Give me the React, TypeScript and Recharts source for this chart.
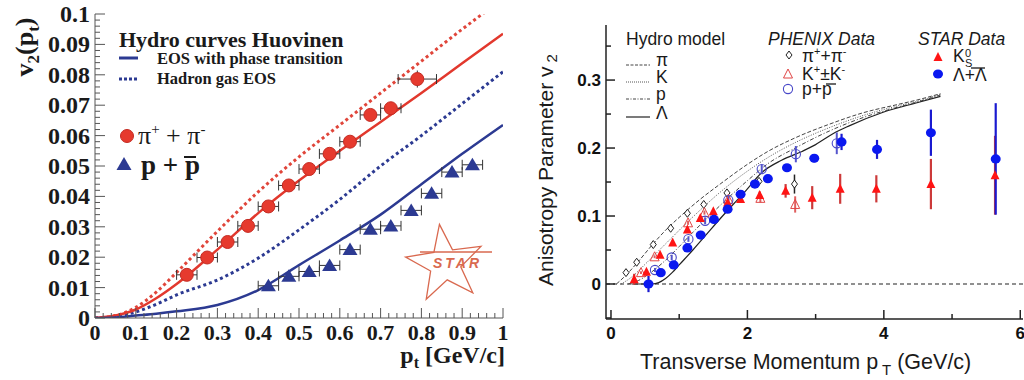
import React from "react";
import { ComposedChart, ErrorBar, Line, ReferenceLine, Scatter, XAxis, YAxis } from "recharts";

const SERIF = "'Liberation Serif', 'Times New Roman', serif";
const SANS = "'Liberation Sans', Arial, sans-serif";

// ---- left panel: STAR v2(pt), hydro curves Huovinen ----
const ptCurve = [0, 0.05, 0.1, 0.15, 0.2, 0.3, 0.4, 0.5, 0.6, 0.7, 0.8, 0.9, 1.0];
const piPhase = [0, 0.0008, 0.0028, 0.0065, 0.0112, 0.0225, 0.0345, 0.0452, 0.055, 0.0645, 0.074, 0.0838, 0.0935];
const piHadron = [0, 0.0008, 0.0035, 0.0085, 0.015, 0.0285, 0.0415, 0.053, 0.0635, 0.074, 0.0845, 0.095, 0.105];
const protonPhase = [0, 0.0002, 0.0008, 0.0014, 0.0022, 0.0043, 0.0092, 0.0174, 0.0255, 0.034, 0.0440, 0.054, 0.0635];
const protonHadron = [0, 0.0005, 0.002, 0.0045, 0.0076, 0.0125, 0.0197, 0.029, 0.039, 0.05, 0.06, 0.0705, 0.081];

const pionPt = [0.225, 0.275, 0.325, 0.375, 0.425, 0.475, 0.525, 0.575, 0.625, 0.675, 0.725, 0.79];
const pionV2 = [0.0142, 0.0199, 0.025, 0.0303, 0.0367, 0.0436, 0.049, 0.054, 0.058, 0.0668, 0.069, 0.0786];
const pionPtErr = [0.025, 0.025, 0.025, 0.025, 0.025, 0.025, 0.025, 0.025, 0.025, 0.025, 0.025, 0.047];
const pionV2Err = [0.0006, 0.0006, 0.0006, 0.0007, 0.0007, 0.0008, 0.0008, 0.0009, 0.001, 0.0012, 0.0015, 0.0028];

const protonPt = [0.425, 0.475, 0.525, 0.575, 0.625, 0.675, 0.725, 0.775, 0.825, 0.875, 0.925];
const protonV2 = [0.0106, 0.0137, 0.0153, 0.0173, 0.0225, 0.0292, 0.0303, 0.0354, 0.041, 0.048, 0.0504];
const protonPtErr = [0.025, 0.025, 0.025, 0.025, 0.025, 0.025, 0.025, 0.025, 0.025, 0.025, 0.025];

const leftXLabels = ["0", "0.1", "0.2", "0.3", "0.4", "0.5", "0.6", "0.7", "0.8", "0.9", "1"];
const leftYLabels = ["0", "0.01", "0.02", "0.03", "0.04", "0.05", "0.06", "0.07", "0.08", "0.09", "0.1"];

// ---- right panel: PHENIX / STAR v2 vs hydro ----
const hydroPiX = [0.08, 0.2, 0.4, 0.6, 0.8, 1.0, 1.3, 1.6, 2.0, 2.3, 2.7, 3.2, 3.7, 4.2, 4.5, 4.83];
const hydroPiV = [0, 0.011, 0.033, 0.057, 0.079, 0.098, 0.124, 0.147, 0.176, 0.195, 0.215, 0.235, 0.252, 0.264, 0.271, 0.28];
const hydroKX = [0.15, 0.3, 0.5, 0.7, 0.9, 1.1, 1.3, 1.6, 2.0, 2.3, 2.7, 3.2, 3.7, 4.2, 4.5, 4.83];
const hydroKV = [0, 0.01, 0.029, 0.049, 0.069, 0.089, 0.108, 0.135, 0.166, 0.186, 0.208, 0.23, 0.248, 0.262, 0.269, 0.279];
const hydroPX = [0.25, 0.4, 0.6, 0.8, 1.0, 1.2, 1.4, 1.7, 2.0, 2.3, 2.7, 3.2, 3.7, 4.2, 4.5, 4.83];
const hydroPV = [0, 0.005, 0.018, 0.035, 0.055, 0.076, 0.096, 0.125, 0.152, 0.177, 0.2, 0.225, 0.245, 0.26, 0.268, 0.278];
const hydroLamX = [0.3, 0.6, 0.7, 0.8, 0.9, 1.0, 1.2, 1.4, 1.6, 1.8, 2.0, 2.2, 2.5, 2.8, 3.0, 3.26, 3.5, 4.0, 4.5, 4.83];
const hydroLamV = [0, 0, 0.002, 0.008, 0.017, 0.028, 0.05, 0.073, 0.096, 0.118, 0.14, 0.163, 0.182, 0.195, 0.205, 0.2215, 0.233, 0.253, 0.267, 0.276];

const phxPiX = [0.22, 0.377, 0.62, 0.875, 1.12, 1.36, 1.7, 2.17, 2.69];
const phxPiV = [0.0167, 0.032, 0.058, 0.082, 0.104, 0.117, 0.134, 0.151, 0.147];
const phxPiErr = [0.001, 0.001, 0.001, 0.002, 0.002, 0.002, 0.003, 0.004, 0.014];
const phxKX = [0.44, 0.64, 1.13, 1.37, 1.72, 2.19, 2.7];
const phxKV = [0.0167, 0.04, 0.09, 0.105, 0.1245, 0.126, 0.117];
const phxKErr = [0.002, 0.002, 0.003, 0.003, 0.004, 0.006, 0.012];
const phxPX = [0.645, 0.89, 1.135, 1.38, 1.72, 2.21, 2.71, 3.31];
const phxPV = [0.0206, 0.039, 0.066, 0.093, 0.1235, 0.169, 0.191, 0.207];
const phxPErr = [0.003, 0.004, 0.004, 0.005, 0.006, 0.006, 0.012, 0.016];

const starK0X = [0.34, 0.52, 0.72, 0.905, 1.12, 1.31, 1.5, 1.71, 1.9, 2.18, 2.56, 2.95, 3.36, 3.89, 4.69, 5.63];
const starK0V = [0.007, 0.018, 0.043, 0.061, 0.08, 0.097, 0.107, 0.12, 0.125, 0.131, 0.137, 0.127, 0.14, 0.14, 0.147, 0.16];
const starK0Err = [0.008, 0.003, 0.003, 0.003, 0.003, 0.003, 0.003, 0.003, 0.004, 0.005, 0.01, 0.017, 0.022, 0.02, 0.037, 0.058];
const starLamX = [0.55, 0.73, 0.92, 1.12, 1.315, 1.51, 1.71, 1.9, 2.11, 2.3, 2.58, 2.98, 3.38, 3.9, 4.69, 5.64];
const starLamV = [0, 0.0167, 0.028, 0.053, 0.072, 0.095, 0.11, 0.132, 0.147, 0.155, 0.171, 0.185, 0.209, 0.198, 0.2225, 0.184];
const starLamErr = [0.012, 0.003, 0.003, 0.003, 0.003, 0.003, 0.003, 0.003, 0.004, 0.004, 0.005, 0.006, 0.012, 0.014, 0.034, 0.082];

const rightXTicks = [0, 1, 2, 3, 4, 5, 6];
const rightXLabels: Record<number, string> = { 0: "0", 2: "2", 4: "4", 6: "6" };
const rightYTicks = [-0.05, 0, 0.05, 0.1, 0.15, 0.2, 0.25, 0.3, 0.35];
const rightYLabels = ["0", "0.1", "0.2", "0.3"];

type Row = { x: number; y: number; ex: number; ey: number };
const rows = (xs: number[], ys: number[], ex?: number[], ey?: number[]): Row[] =>
  xs.map((x, i) => ({ x, y: ys[i], ex: ex ? ex[i] : 0, ey: ey ? ey[i] : 0 }));

const leftXTicks = Array.from({ length: 51 }, (_, i) => +(i * 0.02).toFixed(2));
const leftYTicks = Array.from({ length: 51 }, (_, i) => +(i * 0.002).toFixed(3));

const onStep = (v: number, step: number) => Math.abs(v / step - Math.round(v / step)) < 1e-6;

// ticks are drawn inward, labels only on the major ones
const LeftXTick = (p: any) => {
  const v = p.payload.value;
  const major = onStep(v, 0.1);
  return (
    <g>
      <line x1={p.x} x2={p.x} y1={p.y} y2={p.y - (major ? 10 : 5)} stroke="#555" />
      {major && (
        <text x={p.x} y={p.y + 22} textAnchor="middle" fontFamily={SERIF} fontWeight="bold" fontSize={22} fill="#1a1a1a">
          {leftXLabels[Math.round(v * 10)]}
        </text>
      )}
    </g>
  );
};

const LeftYTick = (p: any) => {
  const v = p.payload.value;
  const major = onStep(v, 0.01);
  return (
    <g>
      <line x1={p.x} x2={p.x + (major ? 10 : 5)} y1={p.y} y2={p.y} stroke="#555" />
      {major && (
        <text x={p.x - 5} y={p.y + 8} textAnchor="end" fontFamily={SERIF} fontWeight="bold" fontSize={24} fill="#1a1a1a">
          {leftYLabels[Math.round(v * 100)]}
        </text>
      )}
    </g>
  );
};

const RightXTick = (p: any) => {
  const v = p.payload.value;
  const major = v % 2 === 0;
  return (
    <g>
      <line x1={p.x} x2={p.x} y1={p.y} y2={p.y - (major ? 9 : 5)} stroke="#222" strokeWidth={1.5} />
      {rightXLabels[v] && (
        <text x={p.x} y={p.y + 20} textAnchor="middle" fontFamily={SANS} fontWeight="bold" fontSize={17} fill="#111">
          {rightXLabels[v]}
        </text>
      )}
    </g>
  );
};

const RightTopTick = (p: any) => {
  const major = p.payload.value % 2 === 0;
  return <line x1={p.x} x2={p.x} y1={p.y} y2={p.y + (major ? 9 : 5)} stroke="#222" strokeWidth={1.5} />;
};

const RightYTick = (p: any) => {
  const v = p.payload.value;
  const major = onStep(v, 0.1);
  return (
    <g>
      <line x1={p.x} x2={p.x + (major ? 9 : 5)} y1={p.y} y2={p.y} stroke="#222" strokeWidth={1.5} />
      {major && v >= 0 && (
        <text x={p.x - 5} y={p.y + 6} textAnchor="end" fontFamily={SANS} fontWeight="bold" fontSize={17} fill="#111">
          {rightYLabels[Math.round(v * 10)]}
        </text>
      )}
    </g>
  );
};

const RightRightTick = (p: any) => {
  const major = onStep(p.payload.value, 0.1);
  return <line x1={p.x} x2={p.x - (major ? 9 : 5)} y1={p.y} y2={p.y} stroke="#222" strokeWidth={1.5} />;
};

// markers
const PionDot = (p: any) => <circle cx={p.cx} cy={p.cy} r={6.5} fill="#e63a2e" stroke="#c42b22" strokeWidth={1} />;
const ProtonTri = (p: any) => (
  <polygon points={`${p.cx},${p.cy - 7} ${p.cx - 7.5},${p.cy + 5.5} ${p.cx + 7.5},${p.cy + 5.5}`} fill="#2c3a92" />
);
const OpenDiamond = (p: any) => (
  <polygon points={`${p.cx},${p.cy - 4} ${p.cx + 3},${p.cy} ${p.cx},${p.cy + 4} ${p.cx - 3},${p.cy}`} fill="#fff" stroke="#222" strokeWidth={1} />
);
const OpenTri = (p: any) => (
  <polygon points={`${p.cx},${p.cy - 5} ${p.cx - 4.5},${p.cy + 4} ${p.cx + 4.5},${p.cy + 4}`} fill="none" stroke="#e04545" strokeWidth={1} />
);
const OpenCircle = (p: any) => <circle cx={p.cx} cy={p.cy} r={4.6} fill="none" stroke="#4848c8" strokeWidth={1.1} />;
const FilledTri = (p: any) => (
  <polygon points={`${p.cx},${p.cy - 5} ${p.cx - 4.5},${p.cy + 4} ${p.cx + 4.5},${p.cy + 4}`} fill="#ff1414" />
);
const FilledEllipse = (p: any) => <ellipse cx={p.cx} cy={p.cy} rx={5} ry={4.6} fill="#0a18f0" />;

function LeftPanel() {
  return (
    <ComposedChart width={520} height={380} margin={{ top: 14, right: 17, bottom: 0, left: 0 }}>
      <XAxis dataKey="x" type="number" domain={[0, 1]} ticks={leftXTicks} interval={0} height={62}
        tickSize={0} tickMargin={0} tick={LeftXTick} axisLine={{ stroke: "#555" }} allowDataOverflow />
      <XAxis xAxisId="top" orientation="top" type="number" domain={[0, 1]} height={0} tick={false}
        tickLine={false} axisLine={{ stroke: "#555" }} allowDataOverflow />
      <YAxis dataKey="y" type="number" domain={[0, 0.1]} ticks={leftYTicks} interval={0} width={95}
        tickSize={0} tickMargin={0} tick={LeftYTick} axisLine={{ stroke: "#555" }} allowDataOverflow />
      <YAxis yAxisId="right" orientation="right" type="number" domain={[0, 0.1]} width={0} tick={false}
        tickLine={false} axisLine={{ stroke: "#555" }} allowDataOverflow />
      <Line data={rows(ptCurve, piHadron)} dataKey="y" type="monotone" stroke="#e0453a" strokeWidth={3}
        strokeDasharray="3 3" dot={false} isAnimationActive={false} />
      <Line data={rows(ptCurve, protonHadron)} dataKey="y" type="monotone" stroke="#2c3a92" strokeWidth={3}
        strokeDasharray="3 3" dot={false} isAnimationActive={false} />
      <Line data={rows(ptCurve, piPhase)} dataKey="y" type="monotone" stroke="#e2382d" strokeWidth={2.5}
        dot={false} isAnimationActive={false} />
      <Line data={rows(ptCurve, protonPhase)} dataKey="y" type="monotone" stroke="#2c3a92" strokeWidth={2.5}
        dot={false} isAnimationActive={false} />
      <Scatter data={rows(pionPt, pionV2, pionPtErr, pionV2Err)} dataKey="y" shape={PionDot} isAnimationActive={false}>
        <ErrorBar dataKey="ex" direction="x" width={5} stroke="#333" strokeWidth={1} />
        <ErrorBar dataKey="ey" direction="y" width={0} stroke="#333" strokeWidth={1} />
      </Scatter>
      <Scatter data={rows(protonPt, protonV2, protonPtErr)} dataKey="y" shape={ProtonTri} isAnimationActive={false}>
        <ErrorBar dataKey="ex" direction="x" width={5} stroke="#333" strokeWidth={1} />
      </Scatter>
    </ComposedChart>
  );
}

function RightPanel() {
  return (
    <ComposedChart width={504} height={380} margin={{ top: 25, right: 1, bottom: 0, left: 0 }}>
      <XAxis dataKey="x" type="number" domain={[-0.073, 6.04]} ticks={rightXTicks} interval={0} height={61}
        tickSize={0} tickMargin={0} tick={RightXTick} axisLine={{ stroke: "#222", strokeWidth: 1.5 }} allowDataOverflow />
      <XAxis xAxisId="top" orientation="top" type="number" domain={[-0.073, 6.04]} ticks={rightXTicks} interval={0}
        height={0} tickSize={0} tickMargin={0} tick={RightTopTick} axisLine={{ stroke: "#222", strokeWidth: 1.5 }} allowDataOverflow />
      <YAxis dataKey="y" type="number" domain={[-0.0515, 0.381]} ticks={rightYTicks} interval={0} width={86}
        tickSize={0} tickMargin={0} tick={RightYTick} axisLine={{ stroke: "#222", strokeWidth: 1.5 }} allowDataOverflow />
      <YAxis yAxisId="right" orientation="right" type="number" domain={[-0.0515, 0.381]} ticks={rightYTicks} interval={0}
        width={0} tickSize={0} tickMargin={0} tick={RightRightTick} axisLine={{ stroke: "#222", strokeWidth: 1.5 }} allowDataOverflow />
      <ReferenceLine y={0} stroke="#222" strokeWidth={1.2} strokeDasharray="4 3" />
      <Line data={rows(hydroPiX, hydroPiV)} dataKey="y" type="monotone" stroke="#444" strokeWidth={1}
        strokeDasharray="4 2" dot={false} isAnimationActive={false} />
      <Line data={rows(hydroKX, hydroKV)} dataKey="y" type="monotone" stroke="#555" strokeWidth={1}
        strokeDasharray="1 1.5" dot={false} isAnimationActive={false} />
      <Line data={rows(hydroPX, hydroPV)} dataKey="y" type="monotone" stroke="#444" strokeWidth={1}
        strokeDasharray="4 2 1 2" dot={false} isAnimationActive={false} />
      <Line data={rows(hydroLamX, hydroLamV)} dataKey="y" type="monotone" stroke="#222" strokeWidth={1.2}
        dot={false} isAnimationActive={false} />
      <Scatter data={rows(phxPiX, phxPiV, undefined, phxPiErr)} dataKey="y" shape={OpenDiamond} isAnimationActive={false}>
        <ErrorBar dataKey="ey" direction="y" width={0} stroke="#222" strokeWidth={1.5} />
      </Scatter>
      <Scatter data={rows(phxKX, phxKV, undefined, phxKErr)} dataKey="y" shape={OpenTri} isAnimationActive={false}>
        <ErrorBar dataKey="ey" direction="y" width={0} stroke="#e06060" strokeWidth={2} />
      </Scatter>
      <Scatter data={rows(phxPX, phxPV, undefined, phxPErr)} dataKey="y" shape={OpenCircle} isAnimationActive={false}>
        <ErrorBar dataKey="ey" direction="y" width={0} stroke="#5555cc" strokeWidth={2} />
      </Scatter>
      <Scatter data={rows(starK0X, starK0V, undefined, starK0Err)} dataKey="y" shape={FilledTri} isAnimationActive={false}>
        <ErrorBar dataKey="ey" direction="y" width={0} stroke="#cc3a3a" strokeWidth={2.2} />
      </Scatter>
      <Scatter data={rows(starLamX, starLamV, undefined, starLamErr)} dataKey="y" shape={FilledEllipse} isAnimationActive={false}>
        <ErrorBar dataKey="ey" direction="y" width={0} stroke="#1a1ad0" strokeWidth={2.2} />
      </Scatter>
    </ComposedChart>
  );
}

function Overlay() {
  const starPts = [0, 1, 2, 3, 4, 5, 6, 7, 8, 9]
    .map((i) => {
      const r = i % 2 === 0 ? 40 : 16;
      const a = (-90 + i * 36 - 8) * (Math.PI / 180);
      return `${445 + r * Math.cos(a)},${264 + r * Math.sin(a)}`;
    })
    .join(" ");
  return (
    <svg width={1024} height={380} style={{ position: "absolute", left: 0, top: 0, pointerEvents: "none" }}>
      {/* left panel labels */}
      <g fontFamily={SERIF} fill="#1a1a1a" fontWeight="bold">
        <text transform="translate(33,47) rotate(-90)" textAnchor="middle" fontSize={26}>
          v<tspan fontSize={17} dy={6}>2</tspan>
          <tspan dy={-6}>(p</tspan>
          <tspan fontSize={17} dy={6}>t</tspan>
          <tspan dy={-6}>)</tspan>
        </text>
        <text x={505} y={363} textAnchor="end" fontSize={24}>
          p<tspan fontSize={16} dy={5}>t</tspan>
          <tspan dy={-5}> [GeV/c]</tspan>
        </text>
        <text x={119} y={47} fontSize={22}>Hydro curves Huovinen</text>
        <line x1={119} x2={138} y1={58} y2={58} stroke="#2c3a92" strokeWidth={3} />
        <text x={157} y={64} fontSize={16.5}>EOS with phase transition</text>
        <line x1={119} x2={138} y1={79} y2={79} stroke="#2c3a92" strokeWidth={3} strokeDasharray="3 2" />
        <text x={157} y={84} fontSize={16.5}>Hadron gas EOS</text>
      </g>
      <circle cx={127} cy={136} r={6.5} fill="#e63a2e" stroke="#c42b22" />
      <text x={138} y={144} fontFamily={SERIF} fontSize={26} fill="#1a1a1a">
        π<tspan fontSize={15} dy={-10}>+</tspan>
        <tspan dy={10}> + π</tspan>
        <tspan fontSize={15} dy={-10}>-</tspan>
      </text>
      <polygon points="124,157 116.5,170 131.5,170" fill="#2c3a92" />
      <text x={141} y={174} fontFamily={SERIF} fontWeight="bold" fontSize={27} fill="#1a1a1a">p + p</text>
      <line x1={184} x2={196} y1={157} y2={157} stroke="#1a1a1a" strokeWidth={2} />
      <polygon points={starPts} fill="none" stroke="#d9694f" strokeWidth={1.3} />
      <line x1={420} x2={492} y1={252} y2={252} stroke="#d9694f" strokeWidth={1.3} />
      <text x={433} y={268} fontFamily={SANS} fontStyle="italic" fontWeight="bold" fontSize={14}
        letterSpacing={3} fill="#d9694f">STAR</text>

      {/* right panel labels */}
      <text transform="translate(553,170) rotate(-90)" textAnchor="middle" fontFamily={SANS} fontSize={21} fill="#1a1a1a">
        Anisotropy Parameter v<tspan fontSize={15} dy={4}> 2</tspan>
      </text>
      <text x={640} y={369} fontFamily={SANS} fontSize={21.5} fill="#1a1a1a">
        Transverse Momentum p<tspan fontSize={15} dy={6}> T</tspan>
        <tspan dy={-6}> (GeV/c)</tspan>
      </text>
      <g fontFamily={SANS} fontSize={17.5} fill="#1a1a1a">
        <text x={626} y={45}>Hydro model</text>
        <text x={768} y={45} fontStyle="italic">PHENIX Data</text>
        <text x={918} y={45} fontStyle="italic">STAR Data</text>
        <line x1={626} x2={650} y1={65} y2={65} stroke="#444" strokeDasharray="3 1.5" />
        <text x={656} y={66}>π</text>
        <line x1={626} x2={650} y1={82} y2={82} stroke="#555" strokeDasharray="1 1" />
        <text x={656} y={83}>K</text>
        <line x1={626} x2={650} y1={99} y2={99} stroke="#444" strokeDasharray="3 1.5 1 1.5" />
        <text x={656} y={100}>p</text>
        <line x1={626} x2={650} y1={117} y2={117} stroke="#222" strokeWidth={1.2} />
        <text x={656} y={119}>Λ</text>
        <polygon points="789,51 792,55 789,59 786,55" fill="#fff" stroke="#222" />
        <text x={802} y={62}>
          π<tspan fontSize={11} dy={-7}>+</tspan>
          <tspan dy={7}>+π</tspan>
          <tspan fontSize={11} dy={-7}>-</tspan>
        </text>
        <polygon points="788,69 783.5,78 792.5,78" fill="none" stroke="#e04545" />
        <text x={802} y={80}>
          K<tspan fontSize={11} dy={-7}>+</tspan>
          <tspan dy={7}>±K</tspan>
          <tspan fontSize={11} dy={-7}>-</tspan>
        </text>
        <circle cx={788} cy={89} r={4.6} fill="none" stroke="#4848c8" strokeWidth={1.1} />
        <text x={802} y={95}>p+p</text>
        <line x1={826} x2={836} y1={84} y2={84} stroke="#1a1a1a" strokeWidth={1.3} />
        <polygon points="938,52 933.5,61 942.5,61" fill="#ff1414" />
        <text x={953} y={62}>K</text>
        <text x={965} y={57} fontSize={11}>0</text>
        <text x={965} y={67} fontSize={11}>S</text>
        <ellipse cx={938} cy={74} rx={5} ry={4.6} fill="#0a18f0" />
        <text x={953} y={81}>Λ+Λ</text>
        <line x1={971} x2={985} y1={68} y2={68} stroke="#1a1a1a" strokeWidth={1.3} />
      </g>
    </svg>
  );
}

export default function App() {
  return (
    <div style={{ position: "absolute", left: 0, top: 0, width: 1024, height: 380, background: "#fff", overflow: "hidden" }}>
      <div style={{ position: "absolute", left: 0, top: 0 }}>
        <LeftPanel />
      </div>
      <div style={{ position: "absolute", left: 520, top: 0 }}>
        <RightPanel />
      </div>
      <Overlay />
    </div>
  );
}
